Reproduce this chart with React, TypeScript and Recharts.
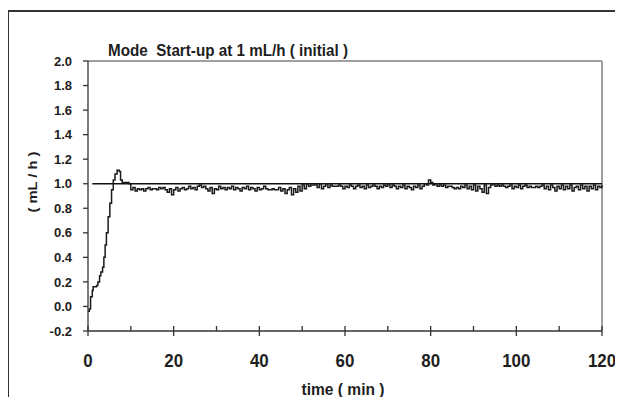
import React from 'react';
import { LineChart, Line, XAxis, YAxis, ReferenceLine } from 'recharts';

const startupTime = [0, 0.3, 0.6, 1.0, 1.2, 1.6, 2.0, 2.3, 2.7, 3.0, 3.4, 3.7, 4.0, 4.3, 4.7, 5.1, 5.5, 5.9, 6.3, 6.8, 7.3, 7.6, 8.0, 8.5, 9.0, 9.6, 10.0, 10.5, 11.0, 11.5];
const startupFlow = [-0.04, -0.02, 0.08, 0.13, 0.16, 0.16, 0.17, 0.2, 0.25, 0.28, 0.32, 0.4, 0.5, 0.6, 0.73, 0.84, 0.95, 1.03, 1.08, 1.11, 1.1, 1.03, 1.01, 1.01, 1.01, 1.0, 0.95, 0.97, 0.94, 0.96];

const steadyStart = 12;
const steadyStep = 0.5;
const steadyFlow = [
  0.95, 0.96, 0.94, 0.96, 0.97, 0.95, 0.96, 0.96, 0.95, 0.97,
  0.96, 0.97, 0.95, 0.93, 0.96, 0.91, 0.95, 0.97, 0.94, 0.96,
  0.97, 0.95, 0.96, 0.98, 0.96, 0.97, 0.95, 0.98, 0.99, 0.97,
  0.98, 0.96, 0.94, 0.97, 0.92, 0.96, 0.95, 0.98, 0.96, 0.97,
  0.95, 0.97, 0.96, 0.98, 0.95, 0.97, 0.96, 0.94, 0.97, 0.96,
  0.98, 0.95, 0.97, 0.96, 0.94, 0.97, 0.95, 0.96, 0.98, 0.96,
  0.95, 0.95, 0.96, 0.95, 0.95, 0.97, 0.94, 0.96, 0.92, 0.95,
  0.97, 0.91, 0.96, 0.93, 0.98, 0.94, 0.99, 0.96, 1.0, 0.98,
  0.99, 0.99, 0.99, 0.97, 1.0, 0.96, 0.98, 1.0, 0.97, 0.99,
  0.98, 0.98, 0.98, 0.99, 0.98, 0.96, 0.98, 0.97, 0.99, 0.98,
  0.96, 0.98, 0.99, 0.97, 0.98, 0.96, 0.99, 0.97, 0.98, 0.99,
  0.98, 0.96, 0.98, 0.97, 0.99, 0.98, 1.0, 0.97, 0.99, 0.98,
  0.96, 0.98, 0.97, 0.99, 0.96, 0.98, 0.97, 0.95, 0.98, 0.97,
  0.99, 0.96, 0.98, 1.0, 0.99, 1.03, 1.01, 0.99, 1.0, 0.98,
  0.99, 0.98, 0.99, 0.97, 0.98, 0.98, 0.97, 0.96, 0.97, 0.96,
  0.98, 0.97, 0.99, 0.96, 0.98, 0.95, 0.99, 0.94, 0.98, 0.96,
  0.93, 0.99, 0.92, 0.97, 0.99, 1.0, 0.98, 0.99, 0.98, 0.99,
  0.98, 0.97, 0.98, 0.99, 0.96, 0.98, 0.97, 0.99, 0.96, 0.98,
  0.99, 0.97, 0.98, 0.97, 0.97, 0.98, 0.97, 0.98, 0.99, 0.96,
  0.98, 0.95, 0.99, 0.97, 0.94, 0.98, 0.96, 0.99, 0.95, 0.98,
  0.96, 0.99, 0.94, 0.97, 0.98, 0.95, 0.99, 0.96, 0.98, 0.94,
  0.98, 0.96, 0.99, 0.95, 0.98, 0.97, 0.99,
];

const setpoint = 1.0;
const setpointStart = 1;
const xTicks = [0, 10, 20, 30, 40, 50, 60, 70, 80, 90, 100, 110, 120];
const yTicks = [-0.2, 0, 0.2, 0.4, 0.6, 0.8, 1.0, 1.2, 1.4, 1.6, 1.8, 2.0];
const title = 'Mode  Start-up at 1 mL/h ( initial )';
const xLabel = 'time ( min )';
const yLabel = '( mL / h )';

const data = [
  ...startupTime.map((t, i) => ({ time: t, flow: startupFlow[i] })),
  ...steadyFlow.map((v, i) => ({ time: steadyStart + i * steadyStep, flow: v })),
];

const SANS = "'Liberation Sans', Arial, sans-serif";
const INK = '#1e1e1e';

const XTick = (props: any) => {
  const { x, y, payload } = props;
  const v = payload.value;
  const major = v % 20 === 0;
  const label = String(v);
  return (
    <g>
      <line x1={x} x2={x} y1={y - 5} y2={major ? y + 5 : y} stroke="#333" strokeWidth={1.3} />
      {major && (
        <text
          x={x}
          y={y + 36}
          textAnchor="middle"
          fontFamily={SANS}
          fontWeight="bold"
          fontSize={19}
          fill={INK}
          textLength={label.length * 9.4}
          lengthAdjust="spacingAndGlyphs"
        >
          {label}
        </text>
      )}
    </g>
  );
};

export default function App() {
  return (
    <div style={{ position: 'relative', width: 623, height: 405, margin: -8, overflow: 'hidden', background: '#fff' }}>
      <div
        style={{
          position: 'absolute',
          left: 7,
          top: 10,
          width: 640,
          height: 420,
          borderTop: '2px solid #333',
          borderLeft: '2px solid #333',
        }}
      />
      <div style={{ position: 'absolute', left: 0, top: 0 }}>
        <LineChart width={623} height={405} data={data} margin={{ top: 61, right: 21, bottom: 0, left: 0 }}>
          <text
            x={108}
            y={56}
            fontFamily={SANS}
            fontWeight="bold"
            fontSize={16}
            fill={INK}
            textLength={240}
            lengthAdjust="spacingAndGlyphs"
            style={{ whiteSpace: 'pre' }}
          >
            {title}
          </text>
          <ReferenceLine y={2} stroke="#a0a0a0" strokeWidth={2} />
          <ReferenceLine x={120} stroke="#a0a0a0" strokeWidth={2} />
          <XAxis
            dataKey="time"
            type="number"
            domain={[0, 120]}
            ticks={xTicks}
            interval={0}
            height={74}
            tickLine={false}
            tickSize={0}
            tickMargin={0}
            tick={<XTick />}
            axisLine={{ stroke: '#333', strokeWidth: 1.3 }}
            label={() => (
              <text
                x={343}
                y={395}
                textAnchor="middle"
                fontFamily={SANS}
                fontWeight="bold"
                fontSize={17}
                fill={INK}
                textLength={83}
                lengthAdjust="spacingAndGlyphs"
                style={{ whiteSpace: 'pre' }}
              >
                {xLabel}
              </text>
            )}
          />
          <YAxis
            type="number"
            domain={[-0.2, 2.0]}
            ticks={yTicks}
            interval={0}
            width={88}
            tickSize={5}
            tickMargin={11}
            tickFormatter={(v: number) => v.toFixed(1)}
            tick={{ fontFamily: SANS, fontWeight: 'bold', fontSize: 13, fill: INK }}
            tickLine={{ stroke: '#333', strokeWidth: 1.3 }}
            axisLine={{ stroke: '#333', strokeWidth: 1.3 }}
            label={() => (
              <text
                x={32}
                y={182}
                transform="rotate(-90, 32, 182)"
                textAnchor="middle"
                dominantBaseline="central"
                fontFamily={SANS}
                fontWeight="bold"
                fontSize={13}
                fill={INK}
                textLength={61}
                lengthAdjust="spacingAndGlyphs"
                style={{ whiteSpace: 'pre' }}
              >
                {yLabel}
              </text>
            )}
          />
          <ReferenceLine
            segment={[
              { x: setpointStart, y: setpoint },
              { x: 120, y: setpoint },
            ]}
            stroke="#111"
            strokeWidth={1.4}
          />
          <Line
            type="stepAfter"
            dataKey="flow"
            stroke="#1a1a1a"
            strokeWidth={1.5}
            dot={false}
            isAnimationActive={false}
          />
        </LineChart>
      </div>
    </div>
  );
}
